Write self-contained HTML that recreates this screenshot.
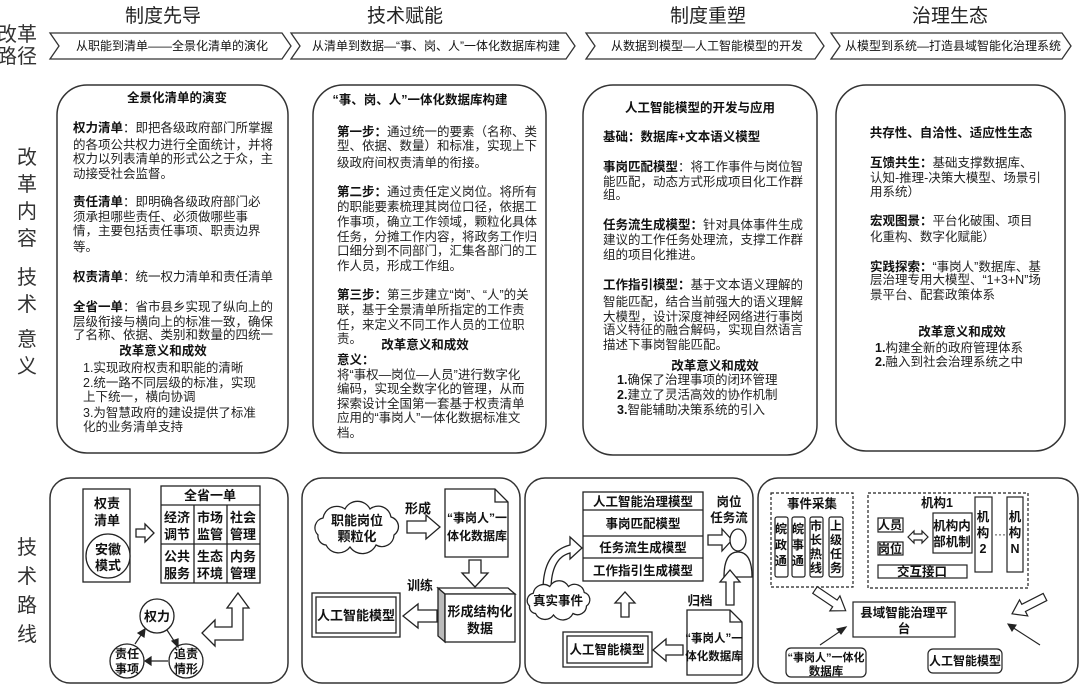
<!DOCTYPE html>
<html><head><meta charset="utf-8">
<style>
body{margin:0;background:#fff;}
#w{position:relative;width:1080px;height:689px;overflow:hidden;font-family:"Liberation Sans","Noto Sans CJK SC",sans-serif;color:#222;}
.t{position:absolute;white-space:nowrap;font-size:12.5px;line-height:14px;}
.c{transform:translateX(-50%);}
b{font-weight:bold;color:#111;}
.h{position:absolute;font-size:19px;line-height:22px;white-space:nowrap;transform:translateX(-50%);color:#222;}
.v{position:absolute;font-size:20px;line-height:22px;transform:translateX(-50%);color:#333;}
svg{position:absolute;left:0;top:0;}
svg text{font-family:"Liberation Sans","Noto Sans CJK SC",sans-serif;fill:#111;}
</style></head><body><div id="w">
<svg width="1080" height="689" viewBox="0 0 1080 689">
<g fill="#fff" stroke="#333" stroke-width="1.3">
<polygon points="50,33 282,33 291,46 282,59 50,59 59,46"/>
<polygon points="291,33 566,33 575,46 566,59 291,59 300,46"/>
<polygon points="586,33 815,33 824,46 815,59 586,59 595,46"/>
<polygon points="831,33 1062,33 1071,46 1062,59 831,59 840,46"/>
</g>
<g font-size="12" text-anchor="middle">
<text x="172" y="50">从职能到清单——全景化清单的演化</text>
<text x="436" y="50">从清单到数据—“事、岗、人”一体化数据库构建</text>
<text x="707" y="50">从数据到模型—人工智能模型的开发</text>
<text x="953" y="50">从模型到系统—打造县域智能化治理系统</text>
</g>
<g fill="none" stroke="#333" stroke-width="1.5">
<rect x="57" y="85" width="231" height="368" rx="30"/>
<rect x="313" y="85" width="233" height="368" rx="30"/>
<rect x="583" y="85" width="234" height="370" rx="30"/>
<rect x="836" y="85" width="229" height="366" rx="30"/>
<rect x="50" y="478" width="238" height="205" rx="20"/>
<rect x="302" y="478" width="218" height="205" rx="20"/>
<rect x="525" y="478" width="228" height="205" rx="20"/>
<rect x="758" y="478" width="320" height="205" rx="20"/>
</g>
<!-- box1 -->
<g stroke="#222" stroke-width="1.3" fill="#fff">
<rect x="83" y="489" width="47" height="93"/>
<circle cx="108" cy="556" r="22"/>
<polygon points="136,529 145,529 145,524 154,533 145,542 145,537 136,537"/>
<rect x="161" y="486" width="99" height="97"/>
<line x1="161" y1="505" x2="260" y2="505"/>
<line x1="161" y1="544" x2="260" y2="544"/>
<line x1="194" y1="505" x2="194" y2="583"/>
<line x1="227" y1="505" x2="227" y2="583"/>
<circle cx="157" cy="616" r="17"/>
<circle cx="186" cy="661" r="17"/>
<circle cx="127" cy="661" r="17"/>
<polygon points="238,593 249,608 243,608 243,640 215,640 215,646 202,633 215,620 215,627 232,627 232,608 227,608"/>
</g>
<g stroke="#222" stroke-width="1.2" fill="#222">
<line x1="167" y1="630" x2="176" y2="644"/><polygon points="178,647 172,641 178,639"/>
<line x1="168" y1="661" x2="148" y2="661"/><polygon points="145,661 151,657 151,665"/>
<line x1="135" y1="644" x2="143" y2="632"/><polygon points="145,629 144,637 138,633"/>
</g>
<g font-size="13" font-weight="bold" text-anchor="middle">
<text x="107" y="508">权责</text><text x="107" y="525">清单</text>
<text x="108" y="554">安徽</text><text x="108" y="570">模式</text>
<text x="210" y="500">全省一单</text>
<text x="177" y="522">经济</text><text x="177" y="539">调节</text>
<text x="210" y="522">市场</text><text x="210" y="539">监管</text>
<text x="243" y="522">社会</text><text x="243" y="539">管理</text>
<text x="177" y="561">公共</text><text x="177" y="578">服务</text>
<text x="210" y="561">生态</text><text x="210" y="578">环境</text>
<text x="243" y="561">内务</text><text x="243" y="578">管理</text>
<text x="157" y="621">权力</text>
<text x="186" y="658" font-size="12">追责</text><text x="186" y="673" font-size="12">情形</text>
<text x="127" y="658" font-size="12">责任</text><text x="127" y="673" font-size="12">事项</text>
</g>
<!-- box2 -->
<g stroke="#222" stroke-width="1.3" fill="#fff">
<path d="M318,535 a10,10 0 0,1 5,-17 a14,14 0 0,1 22,-9 a14,14 0 0,1 25,0 a13,13 0 0,1 21,8 a10,10 0 0,1 3,18 a12,12 0 0,1 -18,10 a15,15 0 0,1 -26,2 a14,14 0 0,1 -24,-2 a9,9 0 0,1 -8,-10 z"/>
<polygon points="407,521 426,521 426,515 440,527 426,539 426,533 407,533"/>
<path d="M445,489 L495,489 L508,502 L508,557 L445,557 Z"/><path d="M495,489 L495,502 L508,502" fill="none"/>
<polygon points="469,560 481,560 481,573 488,573 475,587 462,573 469,573"/>
<polygon points="438,588 445,594 445,642 438,636" fill="#bbb"/>
<polygon points="438,588 508,588 515,594 445,594"/>
<rect x="445" y="594" width="70" height="48"/>
<polygon points="437,610 418,610 418,604 403,616 418,628 418,622 437,622"/>
<rect x="312" y="593" width="88" height="44"/>
<rect x="316" y="597" width="80" height="36"/>
</g>
<g font-size="13" font-weight="bold" text-anchor="middle">
<text x="357" y="525">职能岗位</text><text x="357" y="541">颗粒化</text>
<text x="418" y="513">形成</text>
<text x="477" y="522" font-size="12">“事岗人”一</text><text x="477" y="540" font-size="12">体化数据库</text>
<text x="480" y="616">形成结构化</text><text x="480" y="633">数据</text>
<text x="420" y="590">训练</text>
<text x="356" y="620">人工智能模型</text>
</g>
<!-- box3 -->
<g stroke="#222" stroke-width="1.3" fill="#fff">
<rect x="583" y="492" width="120" height="89"/>
<line x1="583" y1="510" x2="703" y2="510"/>
<line x1="583" y1="536" x2="703" y2="536"/>
<line x1="583" y1="558" x2="703" y2="558"/>
<polygon points="708,535 722,535 722,529 732,540 722,551 722,545 708,545"/>
<ellipse cx="738" cy="540" rx="8" ry="11"/>
<path d="M724,577 Q724,552 738,552 Q752,552 752,577 Z"/>
<path d="M543,590 Q543,552 570,545 L570,537 L582,548 L570,559 L570,553 Q551,558 551,590 Z"/>
<g transform="translate(558,600) scale(0.75) translate(-356,-527)"><path vector-effect="non-scaling-stroke" d="M318,535 a10,10 0 0,1 5,-17 a14,14 0 0,1 22,-9 a14,14 0 0,1 25,0 a13,13 0 0,1 21,8 a10,10 0 0,1 3,18 a12,12 0 0,1 -18,10 a15,15 0 0,1 -26,2 a14,14 0 0,1 -24,-2 a9,9 0 0,1 -8,-10 z"/></g>
<polygon points="621,617 621,603 615,603 625,592 635,603 629,603 629,617"/>
<polygon points="726,605 726,582 720,582 730,570 740,582 734,582 734,605"/>
<path d="M687,610 L730,610 L742,622 L742,675 L687,675 Z"/><path d="M730,610 L730,622 L742,622" fill="none"/>
<polygon points="683,645 666,645 666,639 653,650 666,661 666,655 683,655"/>
<rect x="563" y="632" width="89" height="35"/>
<rect x="567" y="636" width="81" height="27"/>
</g>
<g font-size="12.5" font-weight="bold" text-anchor="middle">
<text x="643" y="506">人工智能治理模型</text>
<text x="643" y="528">事岗匹配模型</text>
<text x="643" y="552">任务流生成模型</text>
<text x="643" y="575">工作指引生成模型</text>
<text x="729" y="506">岗位</text><text x="729" y="522">任务流</text>
<text x="558" y="605">真实事件</text>
<text x="700" y="605">归档</text>
<text x="714" y="642" font-size="11.5">“事岗人”一</text><text x="714" y="660" font-size="11.5">体化数据库</text>
<text x="607" y="654">人工智能模型</text>
</g>
<!-- box4 -->
<g stroke="#222" stroke-width="1.2" fill="#fff">
<rect x="771" y="493" width="82" height="94" stroke-dasharray="3,2"/>
<rect x="868" y="493" width="160" height="95" stroke-dasharray="3,2"/>
<rect x="775" y="517" width="13" height="60" rx="2"/>
<rect x="792" y="517" width="13" height="60" rx="2"/>
<rect x="810" y="517" width="13" height="60" rx="2"/>
<rect x="829" y="517" width="14" height="60" rx="2"/>
<rect x="878" y="518" width="25" height="14"/>
<rect x="878" y="542" width="25" height="13"/>
<polygon points="908,537 914,531 914,534 922,534 922,531 928,537 922,543 922,540 914,540 914,543"/>
<rect x="933" y="513" width="39" height="40"/>
<rect x="975" y="497" width="17" height="75"/>
<rect x="1007" y="497" width="16" height="75"/>
<rect x="878" y="565" width="89" height="13"/>
<rect x="853" y="602" width="102" height="35"/>
<g transform="translate(815,590) rotate(34)"><polygon points="0,-4 24,-4 24,-9 37,0 24,9 24,4 0,4"/></g>
<g transform="translate(1045,597) rotate(153)"><polygon points="0,-4 24,-4 24,-9 37,0 24,9 24,4 0,4"/></g>
<rect x="786" y="648" width="80" height="29" rx="5"/>
<rect x="928" y="649" width="74" height="24" rx="5"/>
</g>
<g stroke="#222" stroke-width="1.1" fill="#222">
<line x1="820" y1="645" x2="842" y2="630"/><polygon points="846,627 841,634 837,629"/>
<line x1="1040" y1="645" x2="1012" y2="627"/><polygon points="1008,624 1016,625 1012,631"/>
</g>
<text x="1000" y="538" font-size="12" text-anchor="middle">···</text>
<g font-size="12.5" font-weight="bold" text-anchor="middle">
<text x="812" y="508">事件采集</text>
<text x="937" y="507">机构1</text>
<text x="890" y="529" font-size="12">人员</text>
<text x="890" y="553" font-size="12">岗位</text>
<text x="952" y="530">机构内</text><text x="952" y="546">部机制</text>
<text x="983" y="521">机</text><text x="983" y="537">构</text><text x="983" y="553">2</text>
<text x="1015" y="521">机</text><text x="1015" y="537">构</text><text x="1015" y="553">N</text>
<text x="922" y="576">交互接口</text>
<text x="904" y="617">县域智能治理平</text><text x="904" y="633">台</text>
<text x="826" y="661" font-size="11">“事岗人”一体化</text><text x="826" y="675" font-size="11.5">数据库</text>
<text x="965" y="665" font-size="12">人工智能模型</text>
</g>
<g font-size="12" font-weight="bold" text-anchor="middle">
<text x="781" y="533">皖</text><text x="781" y="549">政</text><text x="781" y="565">通</text>
<text x="798" y="533">皖</text><text x="798" y="549">事</text><text x="798" y="565">通</text>
<text x="816" y="530">市</text><text x="816" y="544">长</text><text x="816" y="558">热</text><text x="816" y="572">线</text>
<text x="836" y="530">上</text><text x="836" y="544">级</text><text x="836" y="558">任</text><text x="836" y="572">务</text>
</g>
</svg>

<div class="h" style="left:163px;top:6px">制度先导</div>
<div class="h" style="left:405px;top:6px">技术赋能</div>
<div class="h" style="left:708px;top:6px">制度重塑</div>
<div class="h" style="left:950px;top:6px">治理生态</div>
<div class="v" style="left:17px;top:24px">改革</div>
<div class="v" style="left:17px;top:46px">路径</div>
<div class="v" style="left:27px;top:147px">改</div>
<div class="v" style="left:27px;top:174px">革</div>
<div class="v" style="left:27px;top:201px">内</div>
<div class="v" style="left:27px;top:228px">容</div>
<div class="v" style="left:27px;top:267px">技</div>
<div class="v" style="left:27px;top:294px">术</div>
<div class="v" style="left:27px;top:329px">意</div>
<div class="v" style="left:27px;top:356px">义</div>
<div class="v" style="left:27px;top:537px">技</div>
<div class="v" style="left:27px;top:566px">术</div>
<div class="v" style="left:27px;top:595px">路</div>
<div class="v" style="left:27px;top:624px">线</div>

<!-- panel1 -->
<div class="t c" style="left:177px;top:91px"><b>全景化清单的演变</b></div>
<div class="t" style="left:73px;top:121px"><b>权力清单</b>：即把各级政府部门所掌握</div>
<div class="t" style="left:73px;top:138px">的各项公共权力进行全面统计，并将</div>
<div class="t" style="left:73px;top:152px">权力以列表清单的形式公之于众，主</div>
<div class="t" style="left:73px;top:167px">动接受社会监督。</div>
<div class="t" style="left:73px;top:195px"><b>责任清单</b>：即明确各级政府部门必</div>
<div class="t" style="left:73px;top:210px">须承担哪些责任、必须做哪些事</div>
<div class="t" style="left:73px;top:224px">情，主要包括责任事项、职责边界</div>
<div class="t" style="left:73px;top:240px">等。</div>
<div class="t" style="left:73px;top:270px"><b>权责清单</b>：统一权力清单和责任清单</div>
<div class="t" style="left:73px;top:300px"><b>全省一单</b>：省市县乡实现了纵向上的</div>
<div class="t" style="left:73px;top:315px">层级衔接与横向上的标准一致，确保</div>
<div class="t" style="left:73px;top:328px">了名称、依据、类别和数量的四统一</div>
<div class="t c" style="left:163px;top:344px"><b>改革意义和成效</b></div>
<div class="t" style="left:83px;top:361px">1.实现政府权责和职能的清晰</div>
<div class="t" style="left:83px;top:376px">2.统一路不同层级的标准，实现</div>
<div class="t" style="left:83px;top:390px">上下统一，横向协调</div>
<div class="t" style="left:83px;top:406px">3.为智慧政府的建设提供了标准</div>
<div class="t" style="left:83px;top:420px">化的业务清单支持</div>

<!-- panel2 -->
<div class="t c" style="left:420px;top:93px"><b>“事、岗、人”一体化数据库构建</b></div>
<div class="t" style="left:337px;top:125px"><b>第一步：</b>通过统一的要素（名称、类</div>
<div class="t" style="left:337px;top:139px">型、依据、数量）和标准，实现上下</div>
<div class="t" style="left:337px;top:156px">级政府间权责清单的衔接。</div>
<div class="t" style="left:337px;top:185px"><b>第二步：</b>通过责任定义岗位。将所有</div>
<div class="t" style="left:337px;top:200px">的职能要素梳理其岗位口径，依据工</div>
<div class="t" style="left:337px;top:215px">作事项，确立工作领域，颗粒化具体</div>
<div class="t" style="left:337px;top:230px">任务，分摊工作内容，将政务工作归</div>
<div class="t" style="left:337px;top:244px">口细分到不同部门，汇集各部门的工</div>
<div class="t" style="left:337px;top:259px">作人员，形成工作组。</div>
<div class="t" style="left:337px;top:288px"><b>第三步：</b>第三步建立“岗”、“人”的关</div>
<div class="t" style="left:337px;top:303px">联，基于全景清单所指定的工作责</div>
<div class="t" style="left:337px;top:318px">任，来定义不同工作人员的工位职</div>
<div class="t" style="left:337px;top:332px">责。</div>
<div class="t c" style="left:425px;top:338px"><b>改革意义和成效</b></div>
<div class="t" style="left:337px;top:353px"><b>意义：</b></div>
<div class="t" style="left:337px;top:368px">将“事权—岗位—人员”进行数字化</div>
<div class="t" style="left:337px;top:382px">编码，实现全数字化的管理，从而</div>
<div class="t" style="left:337px;top:397px">探索设计全国第一套基于权责清单</div>
<div class="t" style="left:337px;top:411px">应用的“事岗人”一体化数据标准文</div>
<div class="t" style="left:337px;top:426px">档。</div>

<!-- panel3 -->
<div class="t c" style="left:700px;top:101px"><b>人工智能模型的开发与应用</b></div>
<div class="t" style="left:603px;top:130px"><b>基础：数据库+文本语义模型</b></div>
<div class="t" style="left:603px;top:160px"><b>事岗匹配模型</b>：将工作事件与岗位智</div>
<div class="t" style="left:603px;top:175px">能匹配，动态方式形成项目化工作群</div>
<div class="t" style="left:603px;top:188px">组。</div>
<div class="t" style="left:603px;top:218px"><b>任务流生成模型：</b>针对具体事件生成</div>
<div class="t" style="left:603px;top:233px">建议的工作任务处理流，支撑工作群</div>
<div class="t" style="left:603px;top:248px">组的项目化推进。</div>
<div class="t" style="left:603px;top:278px"><b>工作指引模型：</b>基于文本语义理解的</div>
<div class="t" style="left:603px;top:295px">智能匹配，结合当前强大的语义理解</div>
<div class="t" style="left:603px;top:310px">大模型，设计深度神经网络进行事岗</div>
<div class="t" style="left:603px;top:323px">语义特征的融合解码，实现自然语言</div>
<div class="t" style="left:603px;top:338px">描述下事岗智能匹配。</div>
<div class="t c" style="left:715px;top:359px"><b>改革意义和成效</b></div>
<div class="t" style="left:617px;top:373px"><b>1.</b>确保了治理事项的闭环管理</div>
<div class="t" style="left:617px;top:388px"><b>2.</b>建立了灵活高效的协作机制</div>
<div class="t" style="left:617px;top:403px"><b>3.</b>智能辅助决策系统的引入</div>

<!-- panel4 -->
<div class="t c" style="left:951px;top:126px"><b>共存性、自洽性、适应性生态</b></div>
<div class="t" style="left:870px;top:156px"><b>互馈共生：</b>基础支撑数据库、</div>
<div class="t" style="left:870px;top:171px">认知-推理-决策大模型、场景引</div>
<div class="t" style="left:870px;top:185px">用系统）</div>
<div class="t" style="left:870px;top:214px"><b>宏观图景：</b>平台化破围、项目</div>
<div class="t" style="left:870px;top:230px">化重构、数字化赋能）</div>
<div class="t" style="left:870px;top:260px"><b>实践探索：</b>“事岗人”数据库、基</div>
<div class="t" style="left:870px;top:273px">层治理专用大模型、“1+3+N”场</div>
<div class="t" style="left:870px;top:288px">景平台、配套政策体系</div>
<div class="t c" style="left:962px;top:325px"><b>改革意义和成效</b></div>
<div class="t" style="left:875px;top:341px"><b>1.</b>构建全新的政府管理体系</div>
<div class="t" style="left:875px;top:355px"><b>2.</b>融入到社会治理系统之中</div>
</div></body></html>
